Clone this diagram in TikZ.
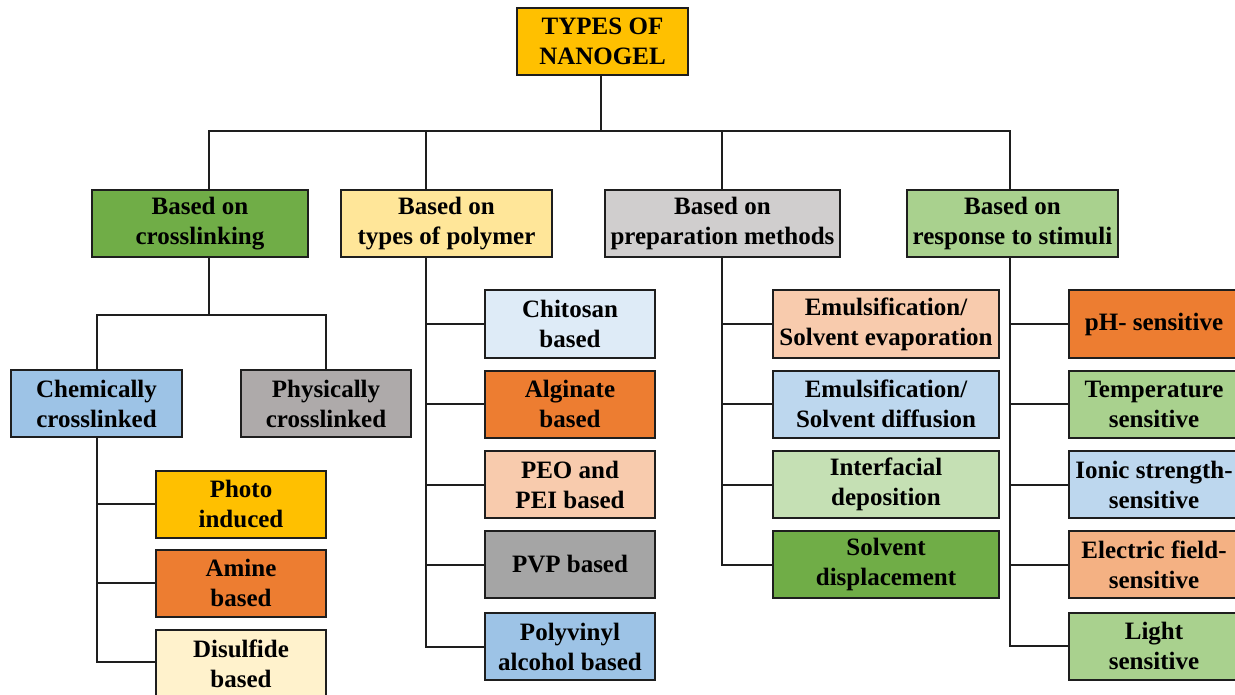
\documentclass[tikz,border=0pt]{standalone}
\usepackage{fontspec}
\setmainfont{Liberation Serif}
\usepackage{xcolor}
\usepackage{tikz}
\usetikzlibrary{positioning, calc}

\definecolor{cgold}{HTML}{FFC000}
\definecolor{cgreen}{HTML}{70AD47}
\definecolor{cyellow}{HTML}{FFE699}
\definecolor{cgraylt}{HTML}{D0CECE}
\definecolor{cgreenlt}{HTML}{A9D18E}
\definecolor{cblue}{HTML}{9DC3E6}
\definecolor{cgraymd}{HTML}{AEAAAA}
\definecolor{corange}{HTML}{ED7D31}
\definecolor{ccream}{HTML}{FFF2CC}
\definecolor{cbluepale}{HTML}{DEEBF7}
\definecolor{cpeach}{HTML}{F8CBAD}
\definecolor{cgraydk}{HTML}{A5A5A5}
\definecolor{cbluelt}{HTML}{BDD7EE}
\definecolor{cgreenpale}{HTML}{C5E0B4}
\definecolor{csalmon}{HTML}{F4B183}
\definecolor{cline}{HTML}{1E1E1E}

\begin{document}
\begin{tikzpicture}[%
    x=1pt, y=-1pt,      % pixel-like units, y grows downwards
    box/.style={draw=cline, line width=2pt, inner sep=0pt, align=center,
        minimum width=170pt, minimum height=67pt,
        font=\fontsize{25}{30}\selectfont\bfseries},
    wide/.style={box, minimum width=226pt},
    wire/.style={draw=cline, line width=2pt}
]

    \useasboundingbox (0,0) rectangle (1235,695);
    \clip (0,0) rectangle (1235,695);

    % ==========================================
    % 1. Root and main categories
    % ==========================================
    \node[box, fill=cgold, minimum width=171pt] (root) at (602.5,41.5) {TYPES OF\\NANOGEL};
    \node[box, fill=cgreen, minimum width=216pt] (cross) at (200,223.5) {Based on\\crosslinking};
    \node[box, fill=cyellow, minimum width=211pt] (poly) at (446.5,223.5) {Based on\\types of polymer};
    \node[box, fill=cgraylt, minimum width=235pt] (prep) at (722.5,223.5) {Based on\\preparation methods};
    \node[box, fill=cgreenlt, minimum width=211pt] (stim) at (1012.5,223.5) {Based on\\response to stimuli};

    % ==========================================
    % 2. Crosslinking branch
    % ==========================================
    \node[box, fill=cblue, minimum width=171pt] (chem) at (96.5,403.5) {Chemically\\crosslinked};
    \node[box, fill=cgraymd] (phys) at (326,403.5) {Physically\\crosslinked};
    \node[box, fill=cgold] (photo) at (241,504) {Photo\\induced};
    \node[box, fill=corange] (amine) at (241,583) {Amine\\based};
    \node[box, fill=ccream] (disulf) at (241,663.5) {Disulfide\\based};

    % ==========================================
    % 3. Polymer branch
    % ==========================================
    \node[box, fill=cbluepale] (chit) at (570,324) {Chitosan\\based};
    \node[box, fill=corange] (algin) at (570,404) {Alginate\\based};
    \node[box, fill=cpeach] (peo) at (570,484.5) {PEO and\\PEI based};
    \node[box, fill=cgraydk] (pvp) at (570,564.5) {PVP based};
    \node[box, fill=cblue] (pva) at (570,646.5) {Polyvinyl\\alcohol based};

    % ==========================================
    % 4. Preparation branch
    % ==========================================
    \node[wide, fill=cpeach] (evap) at (886,324) {Emulsification/\\Solvent evaporation};
    \node[wide, fill=cbluelt] (diff) at (886,404) {Emulsification/\\Solvent diffusion};
    \node[wide, fill=cgreenpale] (inter) at (886,484.5) {Interfacial\\deposition};
    \node[wide, fill=cgreen] (displ) at (886,564.5) {Solvent\\displacement};

    % ==========================================
    % 5. Stimuli branch
    % ==========================================
    \node[box, fill=corange] (ph) at (1154,324) {pH- sensitive};
    \node[box, fill=cgreenlt] (temp) at (1154,404) {Temperature\\sensitive};
    \node[box, fill=cbluelt] (ionic) at (1154,484.5) {Ionic strength-\\sensitive};
    \node[box, fill=csalmon] (elec) at (1154,564.5) {Electric field-\\sensitive};
    \node[box, fill=cgreenlt] (light) at (1154,646) {Light\\sensitive};

    % ==========================================
    % 6. Connectors
    % ==========================================
    \coordinate (bus) at (601,131);
    \coordinate (clbus) at (209,315);
    \draw[wire] ([xshift=-1.5pt]root.south) -- (bus);
    % main bus to the four categories
    \draw[wire] ([xshift=9pt]cross.north) |- (bus);
    \draw[wire] ([xshift=-20.5pt]poly.north) |- (bus);
    \draw[wire] ([xshift=-0.5pt]prep.north) |- (bus);
    \draw[wire] ([xshift=-2.5pt]stim.north) |- (bus);

    % crosslinking split
    \draw[wire] ([xshift=9pt]cross.south) -- (clbus);
    \draw[wire] (chem.north) |- (clbus);
    \draw[wire] (phys.north) |- (clbus);
    \draw[wire] (chem.south) |- (photo.west);
    \draw[wire] (chem.south) |- (amine.west);
    \draw[wire] (chem.south) |- ([yshift=1.5pt]disulf.west);

    % polymer list
    \foreach \n in {chit, algin, peo, pvp, pva}
        \draw[wire] ([xshift=-20.5pt]poly.south) |- (\n.west);

    % preparation list
    \foreach \n in {evap, diff, inter, displ}
        \draw[wire] ([xshift=-0.5pt]prep.south) |- (\n.west);

    % stimuli list
    \foreach \n in {ph, temp, ionic, elec, light}
        \draw[wire] ([xshift=-2.5pt]stim.south) |- (\n.west);

\end{tikzpicture}
\end{document}
